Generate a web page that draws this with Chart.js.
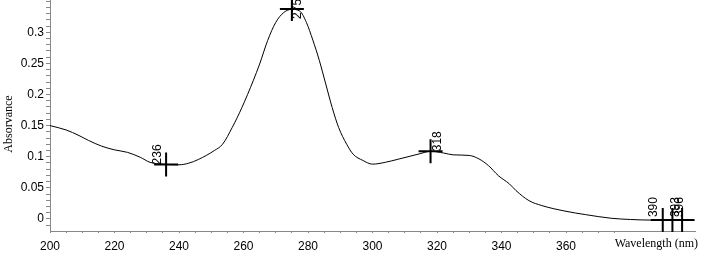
<!DOCTYPE html>
<html lang="en">
  <head>
    <meta charset="UTF-8" />
    <title>Absorbance spectrum</title>
    <style>
      body { margin: 0; background: #fff; }
      #wrap { width: 708px; height: 253px; position: relative; }
    </style>
  </head>
  <body>
    <div id="wrap"><canvas id="myChart"></canvas></div>

    <script src="https://cdn.jsdelivr.net/npm/chart.js"></script>
    <script>
      // spectrum
      const wavelengths = [
        200, 205, 209, 212, 216, 220, 224, 228, 231, 235, 240, 243, 246, 251,
        253.5, 256.5, 259.5, 263, 265, 267.5, 270, 272.5, 275, 277.5, 279.5,
        281.5, 283.5, 285.5, 287.5, 289.5, 292, 294, 297, 300, 304, 308, 314.5,
        318, 322, 325, 330, 333, 336, 339, 342.5, 344.5, 348.5, 352.5, 360, 366,
        374, 380, 387, 390, 393, 396, 400
      ];
      const absorbance = [
        0.150, 0.143, 0.134, 0.126, 0.117, 0.111, 0.107, 0.099, 0.091, 0.088,
        0.087, 0.0895, 0.0955, 0.110, 0.120, 0.147, 0.179, 0.222, 0.249, 0.287,
        0.316, 0.332, 0.337, 0.334, 0.316, 0.2875, 0.255, 0.217, 0.179, 0.147,
        0.120, 0.104, 0.094, 0.088, 0.091, 0.096, 0.1045, 0.1087, 0.106, 0.103,
        0.102, 0.0965, 0.0855, 0.0696, 0.056, 0.0455, 0.0294, 0.0214, 0.0122,
        0.0069, 0.001, -0.001, -0.002, -0.002, -0.002, -0.002, -0.002
      ];

      // picked peaks
      const peakX = [236, 275, 318, 390, 393, 396];
      const peakY = [0.0875, 0.3376, 0.1087, -0.002, -0.002, -0.002];
      const peakLabels = ["236", "275", "318", "390", "393", "396"];

      // label shift next to each cross (px)
      const labelDx = [-8, 6, 7, -9, 3, -2];
      const labelDy = [0, 10, 0, -3, -3, -3];

      const xMin = 200, xMax = 400;
      const yMin = -0.0195, yMax = 0.352;

      const curve = wavelengths.map((w, i) => ({ x: w, y: absorbance[i] }));
      const peaks = peakX.map((w, i) => ({ x: w, y: peakY[i] }));

      const labelPlugin = {
        id: "peakLabels",
        afterDatasetsDraw(chart) {
          const c = chart.ctx;
          const meta = chart.getDatasetMeta(1);
          c.save();
          c.fillStyle = "#000";
          c.font = "12px 'Liberation Sans', Arial, sans-serif";
          c.textAlign = "left";
          c.textBaseline = "middle";
          meta.data.forEach((pt, i) => {
            c.save();
            c.translate(pt.x + labelDx[i], pt.y + labelDy[i]);
            c.rotate(-Math.PI / 2);
            c.fillText(peakLabels[i], 0, 0);
            c.restore();
          });
          c.restore();
        },
      };

      const titlePlugin = {
        id: "axisTitles",
        afterDraw(chart) {
          const c = chart.ctx;
          c.save();
          c.fillStyle = "#000";
          c.font = "12px 'Liberation Serif', 'Times New Roman', serif";
          c.textBaseline = "middle";
          c.textAlign = "right";
          c.fillText("Wavelength (nm)", 698, 244);
          c.translate(9, 124);
          c.rotate(-Math.PI / 2);
          c.textAlign = "center";
          c.fillText("Absorvance", 0, 0);
          c.restore();
        },
      };

      const tickFont = { family: "'Liberation Sans', Arial, sans-serif", size: 12 };

      const ctx = document.getElementById("myChart");
      const mychart = new Chart(ctx, {
        type: "line",
        data: {
          datasets: [
            {
              data: curve,
              borderColor: "#000",
              borderWidth: 1,
              pointRadius: 0,
              cubicInterpolationMode: "monotone",
              fill: false,
            },
            {
              data: peaks,
              showLine: false,
              pointStyle: "cross",
              pointRadius: 12,
              pointBorderWidth: 2,
              pointBorderColor: "#000",
              borderColor: "#000",
              clip: false,
            },
          ],
        },
        options: {
          responsive: true,
          maintainAspectRatio: false,
          animation: false,
          layout: { autoPadding: false, padding: { top: 0, right: 13, left: 0, bottom: 0 } },
          plugins: { legend: { display: false }, tooltip: { enabled: false } },
          scales: {
            x: {
              type: "linear",
              min: xMin,
              max: xMax,
              afterFit: (s) => {
                s.height = 22;
                s.paddingLeft = 0;
                s.paddingRight = 0;
              },
              border: { display: true, color: "#888", width: 1 },
              grid: { drawOnChartArea: false, drawTicks: true, tickLength: 2, tickColor: "#888", tickWidth: 1 },
              ticks: {
                stepSize: 5,
                autoSkip: false,
                maxRotation: 0,
                padding: 6,
                color: "#000",
                font: tickFont,
                callback: (v) => {
                  if (v >= 380) return null;
                  return v % 20 === 0 ? String(v) : "";
                },
              },
            },
            y: {
              min: yMin,
              max: yMax,
              afterFit: (s) => {
                s.width = 50;
                s.paddingTop = 0;
                s.paddingBottom = 0;
              },
              border: { display: true, color: "#888", width: 1 },
              grid: { drawOnChartArea: false, drawTicks: true, tickLength: 4, tickColor: "#888", tickWidth: 1 },
              ticks: {
                stepSize: 0.01,
                includeBounds: false,
                autoSkip: false,
                padding: 2,
                color: "#000",
                font: tickFont,
                callback: (v) => {
                  const h = Math.round(v * 100);
                  if (h >= 35) return "";
                  return h % 5 === 0 ? String(+(h / 100).toFixed(2)) : "";
                },
              },
            },
          },
        },
        plugins: [labelPlugin, titlePlugin],
      });
    </script>
  </body>
</html>
